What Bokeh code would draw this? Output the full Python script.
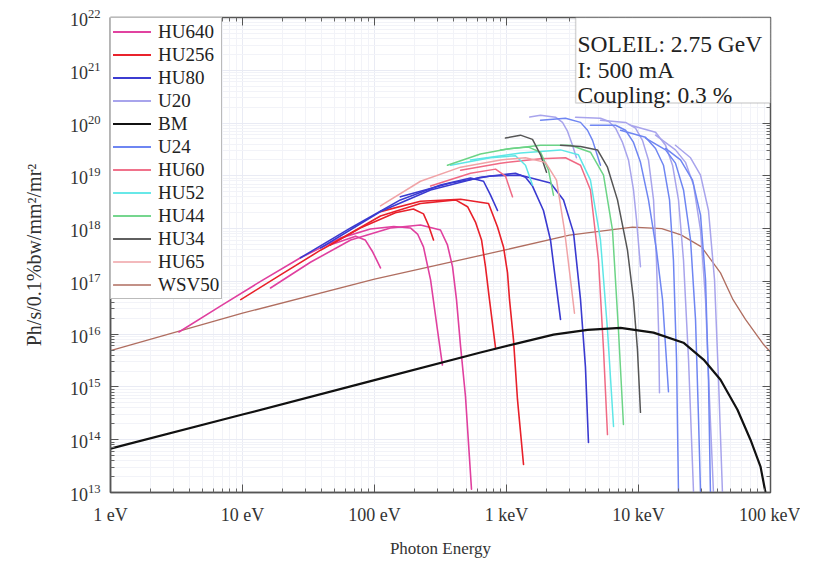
from bokeh.plotting import figure
from bokeh.models import (Range1d, FixedTicker, LogAxis, Legend, LegendItem,
                          BoxAnnotation, Label, CustomJSTickFormatter, LogTickFormatter)
from bokeh.embed import file_html
from bokeh.resources import INLINE

# ---------------- axes / ticks ----------------
x_ticks = [1, 10, 100, 1000, 10000, 100000]
x_tick_labels = ["1 eV", "10 eV", "100 eV", "1 keV", "10 keV", "100 keV"]
y_ticks = [1e13, 1e14, 1e15, 1e16, 1e17, 1e18, 1e19, 1e20, 1e21, 1e22]
info_lines = ["SOLEIL: 2.75 GeV", "I: 500 mA", "Coupling: 0.3 %"]

# ---------------- data (photon energy in eV, brilliance) ----------------
HU640_E = [[3.3, 6.8, 13.7, 27.5, 55, 93, 140, 187, 212, 235, 266, 300, 327],
           [16.3, 32.7, 66, 132, 223, 316, 357, 390, 418, 449, 489, 543],
           [46, 72, 85, 97, 111]]
HU640_F = [[1.1e16, 3.4e16, 1.0e17, 2.8e17, 6.6e17, 9.8e17, 1.1e18, 1.03e18, 7.9e17, 4.5e17, 1.07e17, 1.2e16, 2.6e15],
           [7.5e16, 2.3e17, 6.1e17, 1.03e18, 1.17e18, 9.4e17, 4.9e17, 1.9e17, 4.5e16, 5.8e15, 6.6e14, 1.15e13],
           [4.9e17, 7.2e17, 6.1e17, 3.6e17, 1.8e17]]

HU256_E = [[9.7, 19.4, 39, 78, 144, 197, 235, 256, 280],
           [46, 111, 223, 411, 507, 582, 647, 693, 743, 826],
           [111, 223, 449, 731, 855, 949, 1018, 1054, 1130, 1211, 1346]]
HU256_F = [[4.5e16, 1.33e17, 3.9e17, 1.03e18, 2.0e18, 2.35e18, 1.9e18, 1.17e18, 6.1e17],
           [4.9e17, 1.73e18, 3.0e18, 3.5e18, 2.6e18, 1.33e18, 6.1e17, 1.9e17, 4.5e16, 5.5e15],
           [2.1e18, 3.3e18, 3.6e18, 3.0e18, 1.07e18, 4.5e17, 1.45e17, 4.5e16, 7.8e15, 5.8e14, 3.4e13]]

HU80_E = [[27.5, 66, 157, 316, 534, 670, 757, 855],
          [39, 111, 266, 635, 1170, 1393, 1574, 1905, 2154, 2350, 2566],
          [157, 377, 757, 1276, 2154, 2704, 3221, 3637, 3963, 4178]]
HU80_F = [[2.8e17, 1.03e18, 3.5e18, 6.7e18, 9.1e18, 7.9e18, 4.3e18, 2.2e18],
          [4.3e17, 2.1e18, 5.4e18, 9.4e18, 1.12e19, 9.4e18, 6.4e18, 2.2e18, 6.1e17, 1.07e17, 1.9e16],
          [4.0e18, 7.3e18, 9.9e18, 1.03e19, 7.3e18, 3.5e18, 8.3e17, 4.5e16, 2.4e15, 8.9e13]]

U20_E = [[1500, 1811, 2350, 2655, 2897, 3162, 3388],
         [3334, 5152, 5930, 6700, 7568, 8396, 9165, 9660, 10350],
         [5152, 7980, 9490, 10720, 11900, 13000, 13680, 14190, 14420],
         [8690, 13460, 16030, 18110, 20090, 21930, 23930, 26120],
         [13460, 19050, 22700, 26120, 29510, 32200, 34500, 36980],
         [19050, 24790, 29510, 33900, 37670, 40380, 43250]]
U20_F = [[1.3e20, 1.40e20, 1.29e20, 1.03e20, 7.0e19, 3.8e19, 2.2e19],
         [1.29e20, 1.23e20, 1.08e20, 8.0e19, 4.3e19, 2.0e19, 5.4e18, 1.46e18, 1.9e17],
         [1.13e20, 1.03e20, 8.0e19, 4.7e19, 2.0e19, 3.5e18, 2.5e17, 1.21e16, 7.8e14],
         [9.1e19, 6.7e19, 3.8e19, 1.59e19, 3.5e18, 2.5e17, 3.3e15, 1.0e13],
         [5.9e19, 3.1e19, 1.8e19, 6.7e18, 9.4e17, 4.5e16, 5.8e14, 1.0e13],
         [3.8e19, 2.2e19, 1.03e19, 2.2e18, 1.07e17, 1.37e15, 1.0e13]]

BM_E = [1, 10, 100, 635, 1276, 2270, 4108, 7311, 13000, 21900, 31100, 41800, 56200, 70500, 84000, 91600]
BM_F = [6.8e13, 3.0e14, 1.35e15, 4.5e15, 6.9e15, 9.8e15, 1.21e16, 1.32e16, 1.07e16, 6.9e15, 3.3e15, 1.37e15, 3.7e14, 1.0e14, 3.1e13, 1.0e13]

U24_E = [[1811, 2799, 3637, 4108, 4487, 5152],
         [4325, 6700, 7980, 9165, 10350, 11900, 13680, 15210, 16870],
         [7311, 11300, 13460, 15460, 17180, 18400, 19410, 20090],
         [11300, 16030, 19050, 21930, 24790, 27040, 28500, 29510],
         [16030, 20800, 25660, 29510, 32200, 33900, 35080]]
U24_F = [[1.13e20, 1.23e20, 1.03e20, 7.3e19, 4.7e19, 1.59e19],
         [9.1e19, 9.1e19, 7.3e19, 4.3e19, 1.8e19, 3.5e18, 3.9e17, 4.5e16, 8.1e14],
         [7.3e19, 5.4e19, 3.3e19, 1.59e19, 3.5e18, 2.5e17, 3.3e15, 1.0e13],
         [5.2e19, 3.1e19, 1.74e19, 5.4e18, 6.1e17, 1.9e16, 2.4e14, 1.0e13],
         [3.3e19, 2.0e19, 8.3e18, 1.8e18, 1.07e17, 1.37e15, 1.0e13]]

HU60_E = [[266, 534, 826, 982, 1110],
          [449, 901, 1811, 2799, 3637, 4325, 4977, 5433, 5821]]
HU60_F = [[6.4e18, 1.12e19, 1.34e19, 9.9e18, 4.0e18],
          [1.28e19, 1.74e19, 2.1e19, 2.2e19, 1.59e19, 5.4e18, 2.5e17, 5.1e15, 1.25e14]]

HU52_E = [[377, 757, 1170, 1393, 1574],
          [534, 1276, 2566, 3508, 4325, 5152, 5821, 6471]]
HU52_F = [[1.59e19, 2.2e19, 2.4e19, 1.59e19, 6.7e18],
          [2.0e19, 2.7e19, 3.1e19, 2.5e19, 8.3e18, 6.1e17, 1.21e16, 1.78e14]]

HU44_E = [[357, 635, 1072, 1468, 1811, 2080, 2270],
          [901, 1811, 3055, 4325, 5433, 6353, 7047, 7691]]
HU44_F = [[1.59e19, 2.6e19, 3.3e19, 3.5e19, 2.8e19, 1.28e19, 4.3e18],
          [3.1e19, 3.8e19, 3.8e19, 2.8e19, 1.03e19, 9.4e17, 1.21e16, 1.94e14]]

HU34_E = [[982, 1276, 1574, 1811, 2009],
          [2566, 3637, 4890, 5821, 6930, 8250, 9165, 9820, 10350]]
HU34_F = [[5.2e19, 5.9e19, 4.9e19, 2.5e19, 1.17e19],
          [3.8e19, 3.6e19, 3.1e19, 1.46e19, 3.5e18, 3.9e17, 4.5e16, 5.1e15, 3.3e14]]

HU65_E = [[111, 223, 449, 901, 1393, 1972, 2393, 2748, 3055, 3273]]
HU65_F = [[2.7e18, 7.9e18, 1.46e19, 2.0e19, 2.2e19, 1.8e19, 8.3e18, 9.4e17, 1.07e17, 2.5e16]]

WSV50_E = [1, 10, 100, 1000, 3000, 9000, 15000, 21000, 30000, 41800, 52000, 64600, 89000, 100000]
WSV50_F = [4.9e15, 2.5e16, 1.1e17, 4.0e17, 7.5e17, 1.07e18, 1.0e18, 7.6e17, 4.5e17, 1.45e17, 4.5e16, 1.9e16, 6.3e15, 4.6e15]

series_names = ["HU640", "HU256", "HU80", "U20", "BM", "U24", "HU60", "HU52",
                "HU44", "HU34", "HU65", "WSV50"]
series_colors = ["#e0409f", "#e8202a", "#3a3ad0", "#a8a4ec", "#111111", "#6f86f2",
                 "#f06a84", "#5ee6e6", "#6cd486", "#555555", "#f0a3a6", "#b06e60"]
series_E = [HU640_E, HU256_E, HU80_E, U20_E, [BM_E], U24_E, HU60_E, HU52_E,
            HU44_E, HU34_E, HU65_E, [WSV50_E]]
series_F = [HU640_F, HU256_F, HU80_F, U20_F, [BM_F], U24_F, HU60_F, HU52_F,
            HU44_F, HU34_F, HU65_F, [WSV50_F]]
series_width = [1.6, 1.6, 1.6, 1.5, 2.2, 1.5, 1.5, 1.5, 1.5, 1.5, 1.5, 1.3]

FONT = "Liberation Serif"

p = figure(width=800, height=560, x_axis_type="log", y_axis_type="log",
           x_range=Range1d(1, 1e5), y_range=Range1d(1e13, 1e22),
           output_backend="svg", toolbar_location=None,
           min_border_left=110, min_border_right=30, min_border_top=17,
           min_border_bottom=67)
p.background_fill_color = "white"
p.border_fill_color = "white"
p.outline_line_color = "#555555"
p.outline_line_width = 1.5

x_minor = [m * 10 ** k for k in range(0, 5) for m in range(2, 10)]
y_minor = [m * 10.0 ** k for k in range(13, 22) for m in range(2, 10)]

fmt_code = """
for (let i = 0; i < tv.length; i++) {
  if (Math.abs(Math.log10(tick) - Math.log10(tv[i])) < 1e-6) return labels[i];
}
return "";
"""

xa = p.xaxis[0]
ya = p.yaxis[0]
xa.ticker = FixedTicker(ticks=x_ticks, minor_ticks=x_minor)
ya.ticker = FixedTicker(ticks=y_ticks, minor_ticks=y_minor)
xa.formatter = CustomJSTickFormatter(args=dict(tv=x_ticks, labels=x_tick_labels), code=fmt_code)
ya.formatter = LogTickFormatter()
xa.axis_label = "Photon Energy"
ya.axis_label = "Ph/s/0.1%bw/mm²/mr²"
for ax in (xa, ya):
    ax.major_tick_in = 8
    ax.major_tick_out = 0
    ax.minor_tick_in = 4
    ax.minor_tick_out = 0
    ax.axis_line_color = "#555555"
    ax.axis_line_width = 1.5
    ax.major_tick_line_color = "#555555"
    ax.minor_tick_line_color = "#666666"
    ax.major_label_text_font = FONT
    ax.axis_label_text_font = FONT
    ax.axis_label_text_font_style = "normal"
    ax.major_label_text_color = "#333333"
    ax.axis_label_text_color = "#333333"
xa.major_label_text_font_size = "18px"
ya.major_label_text_font_size = "18px"
xa.axis_label_text_font_size = "17px"
ya.axis_label_text_font_size = "20px"
xa.major_label_standoff = 12
ya.major_label_standoff = 10
xa.axis_label_standoff = 11
ya.axis_label_standoff = 22

for loc, tk, tm in (("right", y_ticks, y_minor), ("above", x_ticks, x_minor)):
    ax2 = LogAxis(ticker=FixedTicker(ticks=tk, minor_ticks=tm),
                  major_tick_in=8, major_tick_out=0, minor_tick_in=4, minor_tick_out=0,
                  major_label_text_font_size="1px", major_label_text_alpha=0.0,
                  major_label_standoff=0,
                  axis_line_color="#555555", major_tick_line_color="#555555",
                  minor_tick_line_color="#666666")
    p.add_layout(ax2, loc)

for g in (p.xgrid[0], p.ygrid[0]):
    g.grid_line_color = "#e9ebf4"
    g.minor_grid_line_color = "#f2f3f8"

# draw: WSV50 first, undulators, BM on top
order = [11, 0, 1, 2, 3, 5, 6, 7, 8, 9, 10, 4]
renderers = {}
for i in order:
    rs = []
    for E, F in zip(series_E[i], series_F[i]):
        r = p.line(E, F, line_color=series_colors[i], line_width=series_width[i],
                   line_join="round", line_cap="round")
        rs.append(r)
    renderers[i] = rs

items = [LegendItem(label=series_names[i], renderers=renderers[i])
         for i in range(len(series_names))]
legend = Legend(items=items, location="top_left", margin=0, padding=2, spacing=0,
                glyph_width=38, glyph_height=23, label_height=23, label_standoff=7,
                label_text_font=FONT, label_text_font_size="19px",
                label_text_color="#222222",
                border_line_color="#777777", border_line_width=1.5,
                background_fill_color="white", background_fill_alpha=1.0)
p.add_layout(legend)

box = BoxAnnotation(left=3340, right=1e5, bottom=2.4e20, top=1e22,
                    fill_color="white", fill_alpha=1.0, line_color="#777777",
                    line_width=1.5)
p.add_layout(box)
for txt, yv in zip(info_lines, [3.1e21, 1.0e21, 3.35e20]):
    p.add_layout(Label(x=3450, y=yv, text=txt, text_font=FONT,
                       text_font_size="23.5px", text_color="#222222",
                       text_baseline="alphabetic", text_align="left"))

open("out.html", "w").write(file_html(p, INLINE))
